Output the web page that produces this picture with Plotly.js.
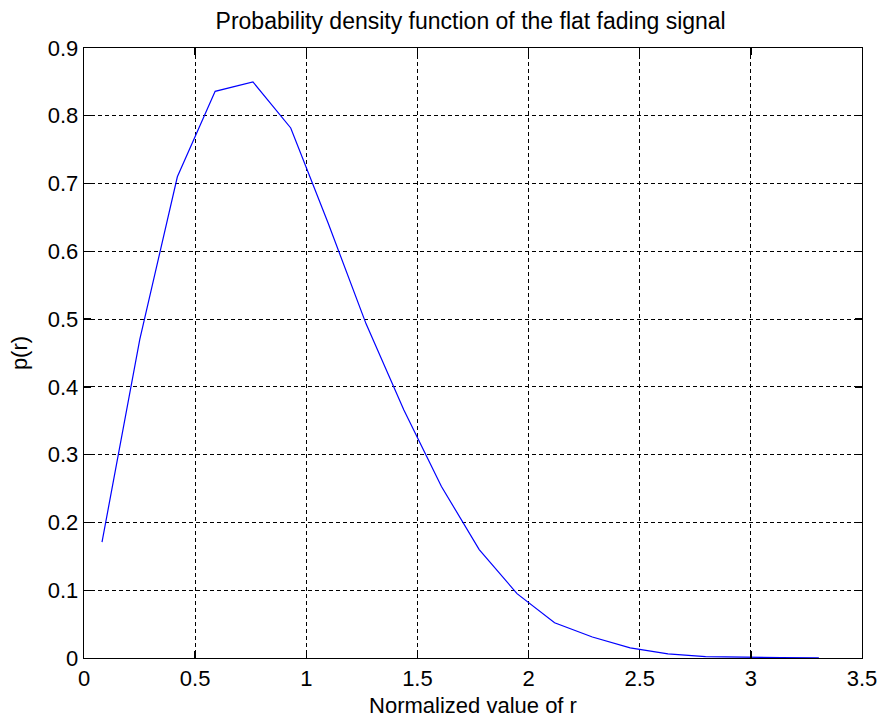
<!DOCTYPE html>
<html>
<head>
<meta charset="utf-8">
<script src="https://cdn.plot.ly/plotly-3.0.1.min.js"></script>
<style>html,body{margin:0;padding:0;background:#fff;}#chart{width:881px;height:719px;}</style>
</head>
<body>
<div id="chart"></div>
<script>
// Normalized value of r (sample points)
const rValues = [0.081, 0.251, 0.420, 0.590, 0.760, 0.930, 1.099, 1.269, 1.439, 1.608,
                 1.778, 1.948, 2.117, 2.287, 2.457, 2.627, 2.796, 2.966, 3.136, 3.306];
// p(r)
const pValues = [0.171, 0.470, 0.710, 0.836, 0.850, 0.782, 0.641, 0.493, 0.366, 0.253,
                 0.160, 0.095, 0.052, 0.031, 0.015, 0.006, 0.002, 0.001, 0.0005, 0.0003];
const xTicks = [0, 0.5, 1, 1.5, 2, 2.5, 3, 3.5];
const xTickLabels = ['0', '0.5', '1', '1.5', '2', '2.5', '3', '3.5'];
const yTicks = [0, 0.1, 0.2, 0.3, 0.4, 0.5, 0.6, 0.7, 0.8, 0.9];
const yTickLabels = ['0', '0.1', '0.2', '0.3', '0.4', '0.5', '0.6', '0.7', '0.8', '0.9'];

const FONT = 'Liberation Sans, Arial, sans-serif';

const trace = {
  x: rValues, y: pValues, type: 'scatter', mode: 'lines',
  line: {color: '#0000ff', width: 1.2}, hoverinfo: 'skip'
};

const axisCommon = {
  showline: true, linecolor: '#000', linewidth: 1.3, mirror: 'ticks',
  ticks: 'inside', ticklen: 7, tickwidth: 1.3, tickcolor: '#000',
  showgrid: true, gridcolor: '#000', gridwidth: 1, griddash: '4px,3px',
  zeroline: false, tickfont: {family: FONT, size: 22, color: '#000'},
  fixedrange: true
};

const layout = {
  width: 881, height: 719,
  margin: {l: 84, r: 19, t: 48, b: 61, autoexpand: false},
  paper_bgcolor: '#fff', plot_bgcolor: '#fff',
  showlegend: false,
  title: {
    text: 'Probability density function of the flat fading signal',
    font: {family: FONT, size: 23, color: '#000'},
    xref: 'paper', x: 0.497, xanchor: 'center',
    yref: 'container', y: 1 - 21/719, yanchor: 'middle'
  },
  xaxis: Object.assign({}, axisCommon, {
    range: [0, 3.5], tickvals: xTicks, ticktext: xTickLabels,
    title: {text: 'Normalized value of r', font: {family: FONT, size: 22, color: '#000'}, standoff: 8},
    automargin: false
  }),
  yaxis: Object.assign({}, axisCommon, {
    range: [0, 0.9], tickvals: yTicks, ticktext: yTickLabels,
    title: {text: 'p(r)', font: {family: FONT, size: 22, color: '#000'}, standoff: 14},
    automargin: false
  })
};

Plotly.newPlot('chart', [trace], layout, {displayModeBar: false, staticPlot: true});
</script>
</body>
</html>
